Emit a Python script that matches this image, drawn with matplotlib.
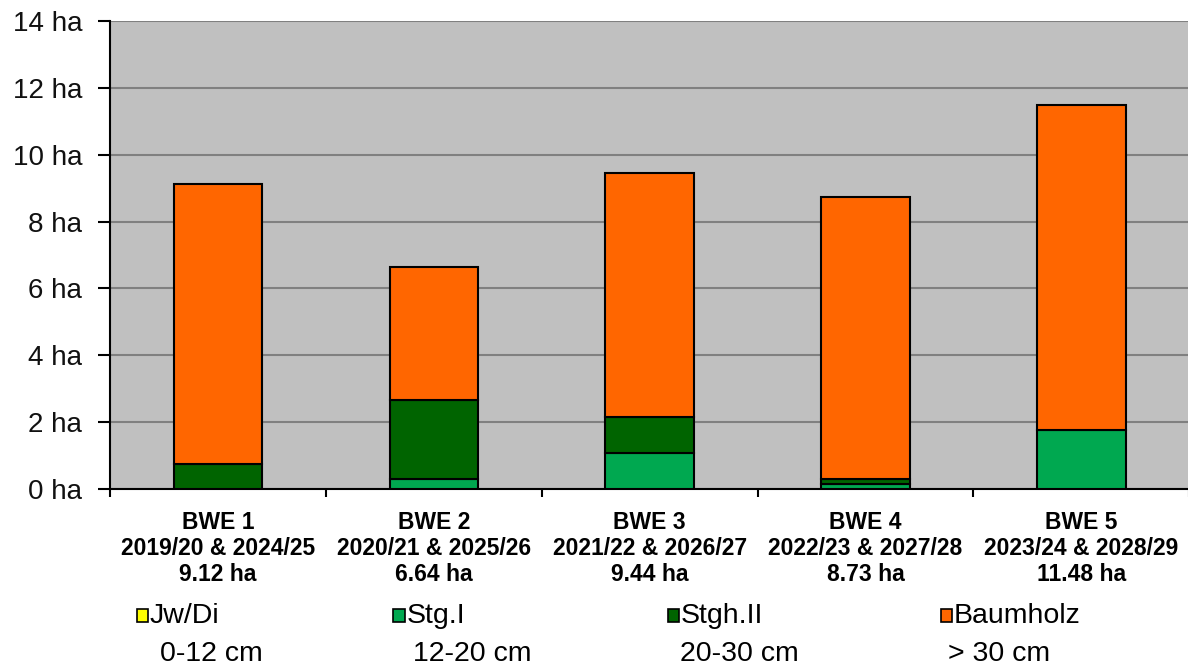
import matplotlib
matplotlib.use("Agg")
import matplotlib.pyplot as plt
from matplotlib.patches import Rectangle
import numpy as np

plt.rcParams['font.family'] = ['Liberation Sans', 'DejaVu Sans']

units = ["BWE 1", "BWE 2", "BWE 3", "BWE 4", "BWE 5"]
periods = ["2019/20 & 2024/25", "2020/21 & 2025/26", "2021/22 & 2026/27",
           "2022/23 & 2027/28", "2023/24 & 2028/29"]
totals = [9.12, 6.64, 9.44, 8.73, 11.48]

jw_di = [0, 0, 0, 0, 0]
stg_1 = [0, 0.30, 1.08, 0.15, 1.76]
stgh_2 = [0.75, 2.36, 1.07, 0.15, 0]
baumholz = [t - a - b - c for t, a, b, c in zip(totals, jw_di, stg_1, stgh_2)]

series = ["Jw/Di", "Stg.I", "Stgh.II", "Baumholz"]
ranges = ["0-12 cm", "12-20 cm", "20-30 cm", "> 30 cm"]
colors = ["#FFFF00", "#00A850", "#006400", "#FF6600"]
yticks = [0, 2, 4, 6, 8, 10, 12, 14]

fig = plt.figure(figsize=(11.88, 6.70), dpi=100)
ax = fig.add_axes([0.0926, 0.27, 0.9085, 0.6987])
ax.set_facecolor("#C0C0C0")

x = np.arange(len(units))
bottom = np.zeros(len(units))
for vals, col in zip([jw_di, stg_1, stgh_2, baumholz], colors):
    vals = np.array(vals)
    mask = vals > 0
    ax.bar(x[mask], vals[mask], bottom=bottom[mask], width=0.41, color=col,
           edgecolor="black", linewidth=1.5, zorder=3)
    bottom += vals

ax.set_xlim(-0.5, len(units) - 0.5)
ax.set_ylim(0, 14)
ax.set_yticks(yticks)
ax.set_yticklabels([f"{v} ha" for v in yticks], fontsize=20, color="#111111")
ax.yaxis.grid(True, color="#808080", linewidth=1.5, zorder=1)
ax.set_axisbelow(True)

ax.set_xticks(x)
ax.set_xticklabels([f"{u}\n{p}\n{t:.2f} ha" for u, p, t in zip(units, periods, totals)],
                   fontsize=16.5, fontweight="bold", linespacing=1.15)
ax.tick_params(axis="x", which="major", length=0, pad=16)
ax.set_xticks(np.arange(len(units) + 1) - 0.5, minor=True)
ax.tick_params(axis="x", which="minor", length=6, width=1.5, direction="out")
ax.tick_params(axis="y", length=8.5, width=1.5, direction="out", pad=11.5)

for side in ["top", "right"]:
    ax.spines[side].set_visible(False)
for side in ["left", "bottom"]:
    ax.spines[side].set_linewidth(1.5)

# legend along the bottom
leg_x = [0.115, 0.331, 0.562, 0.792]
rng_x = [0.1347, 0.3476, 0.5724, 0.798]
for lx, rx, name, rng, col in zip(leg_x, rng_x, series, ranges, colors):
    fig.patches.append(Rectangle((lx, 0.072), 0.0095, 0.019, transform=fig.transFigure,
                                 facecolor=col, edgecolor="black", linewidth=1.2))
    fig.text(lx + 0.011, 0.081, name, fontsize=20.5, va="center", ha="left")
    fig.text(rx, 0.024, rng, fontsize=20.5, va="center", ha="left")

fig.savefig("out.png", dpi=100)
